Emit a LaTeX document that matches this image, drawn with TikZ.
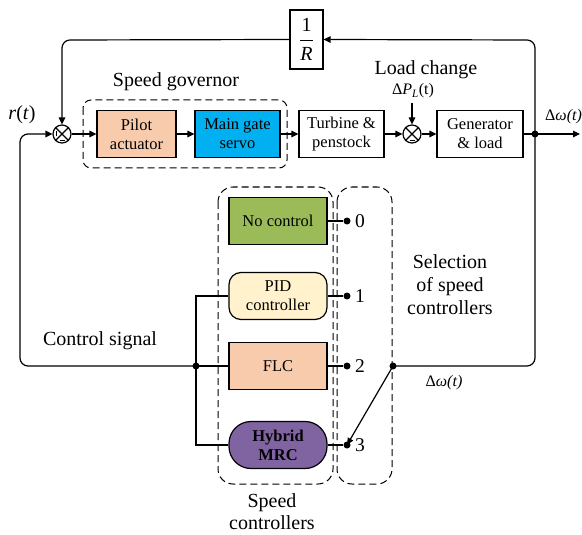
\documentclass[tikz,border=0pt]{standalone}
\usepackage{fontspec}
\setmainfont{Liberation Serif}
\usepackage{amsmath}
\usetikzlibrary{arrows.meta}
\definecolor{peach}{HTML}{F8CBAD}
\definecolor{cyanbox}{HTML}{00B0F0}
\definecolor{greenbox}{HTML}{9BBB59}
\definecolor{pidfill}{HTML}{FFF2CC}
\definecolor{purplebox}{HTML}{8064A2}
\tikzset{
  blk/.style={draw, line width=1.2pt, minimum height=47pt, inner sep=0pt, align=center,
    font=\fontsize{16.5}{19}\selectfont},
  sumj/.style={draw, circle, line width=1.2pt, minimum size=18pt, inner sep=0pt},
  dashbox/.style={draw, line width=1pt, dash pattern=on 7pt off 4pt},
  lbl/.style={font=\fontsize{20}{23}\selectfont, align=center, inner sep=0pt},
  slbl/.style={font=\fontsize{16}{18}\selectfont, inner sep=0pt},
  numlbl/.style={font=\fontsize{19.5}{22}\selectfont, inner sep=0pt, anchor=west},
  sig/.style={line width=1.2pt},
  arr/.style={line width=1.2pt, -{Triangle[length=7pt,width=6.5pt]}},
  dot/.style={circle, fill=black, minimum size=7pt, inner sep=0pt},
}
\begin{document}
\begin{tikzpicture}[x=1pt,y=-1pt]
\useasboundingbox (0,0) rectangle (582,535);

% dashed group boxes
\draw[dashbox, rounded corners=8pt] (83,100) rectangle (287,168);
\draw[dashbox, rounded corners=15pt] (218,187) rectangle (333,484);
\draw[dashbox, rounded corners=15pt] (337,187) rectangle (392,484);

% forward path
\node[sumj] (s1) at (62,134) {};
\node[blk, fill=peach, minimum width=79pt] (pilot) at (136.5,134) {Pilot\\actuator};
\node[blk, fill=cyanbox, minimum width=85pt] (servo) at (237.5,134) {Main gate\\servo};
\node[blk, minimum width=85pt] (turb) at (341.5,134) {Turbine \&\\penstock};
\node[sumj] (s2) at (412,134) {};
\node[blk, minimum width=86pt] (gen) at (480,134) {Generator\\\& load};
\node[blk, minimum width=33pt, minimum height=59pt] (rinv) at (306.5,39.5)
  {\fontsize{20}{22}\selectfont$\dfrac{\text{1}}{\text{\textit{R}}}$};

% crosses in summing junctions
\foreach \s in {s1,s2}{
  \draw[line width=1.1pt] (\s.45) -- (\s.225) (\s.135) -- (\s.315);
  \draw[line width=0.8pt] ([shift={(-2.5pt,-6pt)}]\s.center) -- ([shift={(2.5pt,-6pt)}]\s.center);
}
\draw[line width=0.8pt] ([shift={(-6pt,-2.5pt)}]s1.center) -- ([shift={(-6pt,2.5pt)}]s1.center);

\coordinate (outj) at (535,134);
\coordinate (outend) at (580,134);
\coordinate (pivot) at (393,366);
\coordinate (ctrl) at (196,366);

\draw[arr] (s1) -- (pilot);
\draw[arr] (pilot) -- (servo);
\draw[arr] (servo) -- (turb);
\draw[arr] (turb) -- (s2);
\draw[arr] (s2) -- (gen);
\draw[arr] (gen) -- (outend);
\node[dot] at (outj) {};

% feedback 1/R
\draw[arr, rounded corners=8pt] (outj) -- (535,40) -- (rinv.east);
\draw[arr, rounded corners=8pt] (rinv.west) -- (62,40) -- (s1.north);

% load change
\coordinate (dpl) at (412,103);
\draw[arr] (dpl) -- (s2.north);

% output to switch
\draw[sig, rounded corners=8pt] (outj) -- (535,366) -- (pivot);
\node[dot] at (pivot) {};

% controllers
\node[blk, fill=greenbox, minimum width=98pt] (noc) at (278,221) {No control};
\node[blk, fill=pidfill, minimum width=98pt, rounded corners=12pt] (pid) at (278,296) {PID\\controller};
\node[blk, fill=peach, minimum width=98pt] (flc) at (278,366) {FLC};
\node[blk, fill=purplebox, minimum width=98pt, rounded corners=22pt] (mrc) at (278,445) {\bfseries Hybrid\\\bfseries MRC};

% switch contacts
\foreach \n/\y/\k in {noc/221/0, pid/296/1, flc/366/2, mrc/445/3}{
  \node[dot] (c\k) at (347,\y) {};
  \draw[sig] (\n.east) -- (c\k);
  \node[numlbl] at (355,\y) {\k};
}
\draw[line width=1.2pt, -{Triangle[length=7pt,width=6pt]}] (pivot) -- (c3.center);

% control signal bus
\node[dot] at (ctrl) {};
\draw[sig] (pid.west) -| (196,445) -- (mrc.west);
\draw[sig] (ctrl) -- (flc.west);
\draw[arr, rounded corners=8pt] (ctrl) -- (20,366) -- (20,134) -- (s1.west);

% labels
\node[lbl] at (176,82) {Speed governor};
\node[lbl] at (22,115) {\textit{r}(\textit{t})};
\node[lbl] at (426,70) {Load change};
\node[slbl] at (413,91) {Δ\textit{P}\textsubscript{\textit{L}}(t)};
\node[slbl, anchor=west] at (545,117) {Δ\textit{ω(t)}};
\node[lbl] at (100,341) {Control signal};
\node[lbl] at (450,285) {Selection\\of speed\\controllers};
\node[slbl] at (444,383) {Δ\textit{ω(t)}};
\node[lbl, font=\fontsize{20}{22}\selectfont] at (272,512) {Speed\\controllers};
\end{tikzpicture}
\end{document}
